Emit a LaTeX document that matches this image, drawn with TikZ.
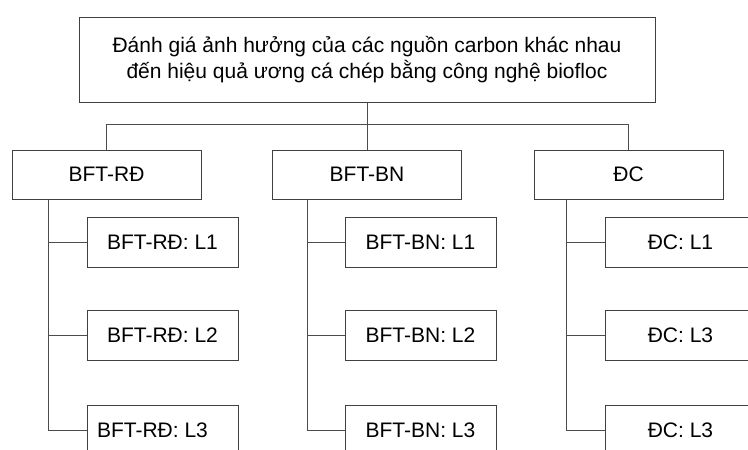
\documentclass[tikz,border=0pt]{standalone}
\usepackage{fontspec}
\setmainfont{Liberation Sans}
\begin{document}
\begin{tikzpicture}[x=1pt,y=-1pt,
  box/.style={draw=black!75, line width=1pt, rectangle, inner sep=0pt,
    font=\fontsize{21}{26}\selectfont, align=center, fill=white},
  lvtwo/.style={box, minimum width=189pt, minimum height=49pt},
  leaf/.style={box, minimum width=151pt, minimum height=50pt},
  conn/.style={draw=black!70, line width=1pt}]
\clip (0,0) rectangle (748,450);
\fill[white] (0,0) rectangle (748,450);
% top
\node[box, minimum width=576pt, minimum height=85pt] (top) at (367,59.5)
  {Đánh giá ảnh hưởng của các nguồn carbon khác nhau\\đến hiệu quả ương cá chép bằng công nghệ biofloc};
% level 2
\node[lvtwo] (rd) at (106.5,174.5) {BFT-RĐ};
\node[lvtwo] (bn) at (367,174.5) {BFT-BN};
\node[lvtwo] (dc) at (628.5,174.5) {ĐC};
% leaves
\node[leaf] (rd1) at (162.5,242) {BFT-RĐ: L1};
\node[leaf] (rd2) at (162.5,335.5) {BFT-RĐ: L2};
\node[leaf] (rd3) at (162.5,430) {\hspace*{-20pt}BFT-RĐ: L3};
\node[leaf] (bn1) at (420.5,242) {BFT-BN: L1};
\node[leaf] (bn2) at (420.5,335.5) {BFT-BN: L2};
\node[leaf] (bn3) at (420.5,430) {BFT-BN: L3};
\node[leaf] (dc1) at (680.5,242) {ĐC: L1};
\node[leaf] (dc2) at (680.5,335.5) {ĐC: L3};
\node[leaf] (dc3) at (680.5,430) {ĐC: L3};
% connectors top
\draw[conn] (top.south) -- (bn.north);
\draw[conn] (rd.north) -- ++(0,-25) -| (dc.north);
% stems
\coordinate (rds) at ([xshift=37pt]rd.south west);
\coordinate (bns) at ([xshift=35pt]bn.south west);
\coordinate (dcs) at ([xshift=33pt]dc.south west);
\draw[conn] (rds) |- (rd3.west);
\draw[conn] (rd1.west -| rds) -- (rd1.west);
\draw[conn] (rd2.west -| rds) -- (rd2.west);
\draw[conn] (bns) |- (bn3.west);
\draw[conn] (bn1.west -| bns) -- (bn1.west);
\draw[conn] (bn2.west -| bns) -- (bn2.west);
\draw[conn] (dcs) |- (dc3.west);
\draw[conn] (dc1.west -| dcs) -- (dc1.west);
\draw[conn] (dc2.west -| dcs) -- (dc2.west);
\end{tikzpicture}
\end{document}
